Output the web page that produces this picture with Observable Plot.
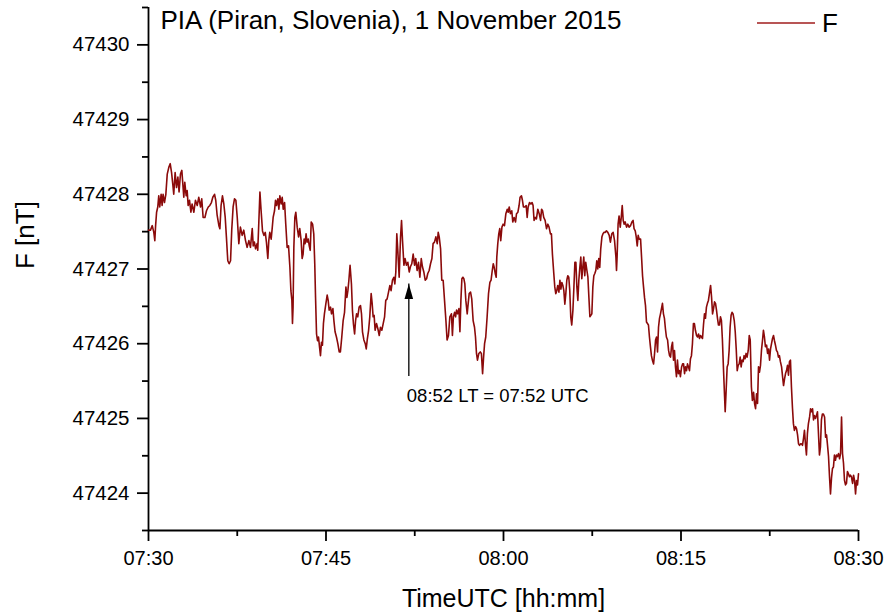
<!DOCTYPE html>
<html><head><meta charset="utf-8">
<script src="https://cdn.jsdelivr.net/npm/d3@7"></script>
<script src="https://cdn.jsdelivr.net/npm/@observablehq/plot@0.6"></script>
<style>html,body{margin:0;padding:0;background:#fff;}</style>
</head><body><div id="chart"></div>
<script>
const title = "PIA (Piran, Slovenia), 1 November 2015";
const seriesName = "F";
const xLabel = "TimeUTC [hh:mm]";
const yLabel = "F [nT]";
const startUTC = "2015-11-01T07:30:00Z";
const endUTC = "2015-11-01T08:30:00Z";
const xTickLabels = ["07:30", "07:45", "08:00", "08:15", "08:30"];
const xMinorTicks = ["07:37:30", "07:52:30", "08:07:30", "08:22:30"];
const yTicks = [47424, 47425, 47426, 47427, 47428, 47429, 47430];
const yMinorTicks = [47423.5, 47424.5, 47425.5, 47426.5, 47427.5, 47428.5, 47429.5, 47430.5];
const yDomain = [47423.5, 47430.5];
// seconds after 07:30:00 UTC
const seconds = [
0,10,19,27,32,36,41,47,52,57,64,69,74,81,88,95,103,110,117,123,128,135,142,149,155,162,169,174,179,184,191,196,201,208,215,221,230,238,247,255,264,270,277,286,294,303,311,319,326,335,341,348,357,362,368,375,382,389,395,402,409,416,422,429,436,443,450,458,466,475,483,492,500,509,517,
526,531,537,543,551,554,559,565,571,578,585,592,598,605,610,615,622,627,632,639,644,649,656,661,666,673,678,683,690,696,703,710,717,722,727,730,733,737,742,747,754,761,767,774,779,784,789,794,799,804,810,815,820,825,832,838,843,847,852,857,862,867,872,877,882,887,892,899,906,911,916,923,928,935,940,946,953,960,967,973,980,987,994,1001,1006,1011,1016,1022,
1029,1034,1039,1045,1050,1055,1061,1068,1075,1080,1085,1092,1099,1104,1109,1116,1122,1129,1134,1139,1144,1149,1156,1163,1170,1176,1183,1190,1197,1203,1210,1217,1224,1230,1237,1244,1249,1254,1259,1264,1271,1278,1283,1288,1295,1301,1308,1315,1322,1328,1335,1342,1349,1355,1362,1369,1376,1383,1389,1396,1403,1410,1416,1423,1430,1437,1443,1450,1457,1464,1469,1474,1481,1487,1494,1501,1508,1514,1521,1528,
1536,1541,1546,1552,1557,1562,1568,1574,1579,1584,1589,1594,1599,1604,1609,1616,1621,1626,1633,1639,1646,1653,1658,1663,1668,1675,1682,1688,1694,1699,1704,1710,1717,1724,1731,1737,1743,1748,1753,1758,1763,1766,1771,1776,1781,1786,1792,1798,1805,1812,1819,1824,1829,1835,1842,1847,1854,1861,1866,1873,1879,1884,1891,1896,1901,1908,1915,1920,1925,1932,1939,1945,1950,1955,1961,1967,1974,1981,1988,1993,1998,2004,2011,2018,2025,2031,2038,
2043,2048,2055,2060,2065,2070,2075,2081,2086,2091,2096,2101,2106,2111,2116,2121,2126,2131,2136,2141,2146,2152,2157,2162,2167,2172,2177,2182,2187,2192,2197,2202,2207,2212,2217,2223,2228,2233,2238,2243,2248,2253,2258,2263,2268,2273,2278,2283,2288,2293,2299,2304,2309,2315,2322,2329,2336,2342,2349,2356,2363,2370,2373,2376,2381,2386,2392,2397,2402,2407,2412,2417,2424,2430,2437,2444,2451,2457,2462,2468,2473,2478,2483,2488,2495,2500,2505,2510,2515,2520,2525,2530,2535,2540,2545,
2550,2555,2561,2566,2571,2576,2581,2586,2591,2596,2601,2606,2611,2616,2621,2626,2632,2637,2642,2647,2652,2657,2662,2667,2672,2677,2682,2687,2692,2697,2703,2708,2713,2718,2723,2728,2733,2738,2743,2748,2753,2758,2763,2768,2773,2779,2784,2789,2794,2799,2804,2809,2814,2819,2824,2829,2834,2839,2844,2850,2855,2860,2865,2870,2875,2880,2885,2890,2895,2900,2905,2910,2915,2921,2924,2929,2934,2939,2944,2949,2954,2959,2964,2970,2975,2980,2985,2990,2995,3000,3005,3010,3015,3020,3025,3030,3035,3041,3046,3051,
3057,3062,3068,3073,3078,3083,3088,3093,3098,3103,3108,3113,3118,3123,3128,3134,3139,3144,3149,3154,3159,3164,3169,3174,3179,3184,3189,3194,3199,3204,3210,3215,3220,3225,3230,3235,3240,3245,3250,3255,3260,3265,3270,3275,3281,3286,3291,3296,3301,3306,3311,3316,3321,3326,3331,3336,3341,3346,3352,3357,3362,3367,3372,3377,3382,3387,3392,3397,3402,3407,3412,3417,3422,3428,3433,3438,3443,3448,3453,3458,3463,3468,3473,3478,3483,3488,3493,3499,3504,3509,3514,3519,3524,3529,3534,3539,3544,3549,3554,3559,3564,3570,3575,3580,3585,3590,3595,3600
];
// total field F [nT]
const fieldF = [
47427.52,47427.52,47427.58,47427.49,47427.38,47427.58,47427.76,47427.83,47427.98,47427.83,47428.00,47427.85,47428.00,47427.89,47428.00,47428.27,47428.36,47428.41,47428.29,47428.14,47428.00,47428.29,47428.09,47428.23,47428.03,47428.27,47428.32,47428.14,47427.96,47428.16,47427.98,47428.05,47427.85,47427.92,47427.76,47427.87,47427.76,47427.92,47427.85,47427.96,47427.83,47427.94,47427.69,47427.69,47427.78,47427.83,47427.85,47427.89,47427.96,47428.00,47427.92,47427.72,47427.58,47427.54,47427.85,47427.98,47427.87,47427.69,47427.43,47427.11,47427.07,47427.11,47427.52,47427.83,47427.94,47427.92,47427.69,47427.34,47427.56,47427.45,47427.52,47427.38,47427.29,47427.38,47427.29,
47427.54,47427.31,47427.36,47427.27,47427.34,47427.25,47427.60,47428.03,47427.78,47427.51,47427.45,47427.49,47427.36,47427.14,47427.38,47427.49,47427.40,47427.54,47427.69,47427.78,47427.92,47427.85,47427.94,47427.80,47427.98,47427.87,47427.96,47427.80,47427.89,47427.60,47427.29,47427.31,47427.02,47426.71,47426.58,47426.27,47426.49,47427.29,47427.69,47427.76,47427.56,47427.43,47427.54,47427.38,47427.14,47427.20,47427.40,47427.34,47427.47,47427.36,47427.40,47427.31,47427.25,47427.63,47427.60,47427.47,47427.07,47426.62,47426.13,47426.04,47426.09,47425.96,47425.84,47426.02,47425.98,47426.27,47426.40,47426.53,47426.65,47426.58,47426.45,47426.49,47426.40,47426.47,47426.31,47426.16,47426.09,47426.00,47425.89,47425.89,47426.09,47426.31,47426.42,47426.76,47426.62,47426.71,47426.85,47427.05,
47426.80,47426.45,47426.27,47426.13,47426.31,47426.40,47426.36,47426.49,47426.51,47426.40,47426.16,47426.05,47426.00,47425.93,47426.05,47426.18,47426.36,47426.67,47426.54,47426.36,47426.38,47426.18,47426.27,47426.20,47426.11,47426.22,47426.18,47426.27,47426.36,47426.58,47426.60,47426.69,47426.78,47426.71,47426.85,47426.89,47426.80,47426.96,47427.47,47427.25,47426.89,47427.43,47427.65,47427.38,47427.05,47427.14,47427.05,47427.09,47426.96,47427.03,47427.07,47427.20,47427.05,47427.14,47426.98,47427.09,47426.89,47427.14,47427.03,47426.96,47426.85,47426.87,47426.94,47426.98,47427.07,47427.14,47427.34,47427.36,47427.43,47427.34,47427.49,47427.43,47427.27,47426.85,47426.85,47426.58,47426.31,47426.05,47426.11,47426.36,
47426.40,47426.11,47426.36,47426.42,47426.36,47426.45,47426.40,47426.47,47426.16,47426.58,47426.87,47426.89,47426.87,47426.80,47426.58,47426.40,47426.54,47426.67,47426.69,47426.60,47426.31,47426.22,47426.09,47425.87,47425.78,47425.87,47425.89,47425.87,47425.60,47425.82,47426.00,47426.09,47426.36,47426.67,47426.82,47426.85,47426.98,47427.07,47427.02,47426.94,47426.89,47427.16,47427.34,47427.47,47427.54,47427.38,47427.56,47427.60,47427.58,47427.74,47427.80,47427.76,47427.83,47427.74,47427.78,47427.63,47427.69,47427.63,47427.74,47427.76,47427.85,47427.96,47427.98,47427.92,47427.83,47427.83,47427.85,47427.69,47427.83,47427.89,47427.87,47427.89,47427.85,47427.65,47427.69,47427.67,47427.80,47427.74,47427.65,47427.80,47427.78,47427.69,47427.65,47427.54,47427.60,47427.56,47427.47,
47427.47,47427.20,47426.94,47426.76,47426.67,47426.71,47426.78,47426.69,47426.85,47426.73,47426.82,47426.78,47426.71,47426.53,47426.67,47426.85,47426.91,47426.89,47426.71,47426.36,47426.25,47426.45,47426.76,47427.09,47427.09,47426.76,47426.58,47426.85,47427.02,47427.16,47426.87,47427.02,47427.16,47426.91,47427.09,47426.98,47426.89,47426.62,47426.36,47426.38,47426.40,47426.76,47426.91,47426.94,47426.98,47427.11,47427.00,47427.14,47427.02,47427.27,47427.43,47427.47,47427.49,47427.49,47427.51,47427.49,47427.45,47427.36,47427.47,47427.49,47427.38,47427.16,47426.98,47427.16,47427.60,47427.71,47427.56,47427.69,47427.85,47427.65,47427.60,47427.63,47427.56,47427.60,47427.56,47427.58,47427.63,47427.65,47427.54,47427.51,47427.43,47427.31,47427.45,47427.40,47427.40,47427.16,47426.91,47426.76,47426.62,47426.51,47426.29,47426.27,47426.25,47426.09,47425.96,
47425.84,47425.78,47425.73,47425.87,47426.05,47426.09,47425.89,47426.22,47426.34,47426.40,47426.47,47426.54,47426.40,47426.34,47426.20,47426.09,47426.05,47425.91,47425.84,47425.82,47425.96,47426.02,47425.78,47425.91,47425.69,47425.56,47425.78,47425.60,47425.64,47425.56,47425.69,47425.73,47425.73,47425.60,47425.69,47425.64,47425.73,47425.69,47425.64,47425.80,47425.84,47426.00,47426.27,47426.27,47426.18,47426.11,47426.09,47426.13,47426.07,47426.11,47426.09,47426.07,47426.25,47426.40,47426.34,47426.49,47426.54,47426.58,47426.67,47426.78,47426.62,47426.40,47426.47,47426.56,47426.54,47426.45,47426.34,47426.25,47426.25,47426.36,47426.31,47426.05,47425.69,47425.29,47425.09,47425.38,47425.69,47425.73,47425.91,47426.22,47426.38,47426.42,47426.40,47426.31,47426.16,47425.93,47425.64,47425.71,47425.73,47425.82,47425.69,47425.78,47425.76,47425.84,47425.80,47425.87,47425.82,47425.91,47426.11,47426.05,
47425.42,47425.24,47425.35,47425.20,47425.13,47425.33,47425.20,47425.69,47425.62,47425.71,47425.91,47426.04,47426.18,47426.09,47425.96,47425.98,47425.87,47425.93,47425.78,47425.93,47426.00,47426.07,47426.11,47426.04,47425.98,47425.91,47425.89,47425.82,47425.84,47425.76,47425.69,47425.56,47425.44,47425.53,47425.60,47425.64,47425.71,47425.58,47425.76,47425.78,47425.42,47425.15,47424.93,47424.84,47424.89,47424.86,47424.78,47424.66,47424.64,47424.66,47424.66,47424.64,47424.73,47424.84,47424.66,47424.51,47424.80,47424.93,47425.02,47425.13,47425.09,47425.13,47424.98,47425.04,47425.00,47425.04,47425.09,47424.80,47424.51,47424.62,47424.98,47425.06,47425.06,47425.02,47424.75,47424.78,47424.64,47424.49,47424.22,47423.99,47424.20,47424.33,47424.35,47424.51,47424.44,47424.51,47424.49,47424.53,47424.46,47424.53,47425.02,47424.53,47424.40,47424.17,47424.11,47424.13,47424.29,47424.26,47424.22,47424.24,47424.22,47424.13,47424.24,47424.17,47423.99,47424.17,47424.11,47424.26
];
const note = {time: "07:52:00", text: "08:52 LT = 07:52 UTC", tip: 47426.8, base: 47425.56, label: 47425.3};

const t0 = new Date(startUTC).getTime();
const toDate = hms => new Date(`2015-11-01T${hms.length === 5 ? hms + ":00" : hms}Z`);
const data = seconds.map((s, i) => ({t: new Date(t0 + s * 1000), F: fieldF[i]}));
const font = '"Liberation Sans", Arial, Helvetica, sans-serif';
const headSymbol = {draw(ctx) { ctx.moveTo(0, 0); ctx.lineTo(4.3, 15); ctx.lineTo(-4.3, 15); ctx.closePath(); }};
const noteDate = toDate(note.time);

const chart = Plot.plot({
  width: 896, height: 615,
  marginLeft: 148, marginRight: 38, marginTop: 7, marginBottom: 85,
  style: {fontFamily: font, background: "#fff", color: "#000", overflow: "visible"},
  x: {type: "utc", domain: [new Date(startUTC), new Date(endUTC)]},
  y: {domain: yDomain},
  marks: [
    Plot.axisX({ticks: xTickLabels.map(toDate), tickSize: 11, tickPadding: 9, tickFormat: d3.utcFormat("%H:%M"), fontSize: 20, strokeWidth: 1.8, label: null}),
    Plot.axisX({ticks: xMinorTicks.map(toDate), tickSize: 6, tickFormat: () => "", strokeWidth: 1.8, label: null}),
    Plot.axisY({ticks: yTicks, tickSize: 11, tickPadding: 8, tickFormat: d => String(d), fontSize: 20.5, strokeWidth: 1.8, label: null}),
    Plot.axisY({ticks: yMinorTicks, tickSize: 6, tickFormat: () => "", strokeWidth: 1.8, label: null}),
    Plot.ruleX([new Date(startUTC)], {stroke: "#000", strokeWidth: 1.8}),
    Plot.ruleY([yDomain[0]], {stroke: "#000", strokeWidth: 1.8}),
    Plot.lineY(data, {x: "t", y: "F", stroke: "#8b0a0a", strokeWidth: 1.6}),
    Plot.ruleX([note], {x: () => noteDate, y1: "base", y2: "tip", stroke: "#000", strokeWidth: 1.3}),
    Plot.dot([note], {x: () => noteDate, y: "tip", symbol: headSymbol, fill: "#000", stroke: "none", r: 5}),
    Plot.text([note], {x: () => noteDate, y: "label", text: "text", textAnchor: "start", dx: -2, fontSize: 18.5, fill: "#000"}),
    Plot.text([title], {frameAnchor: "top-left", textAnchor: "start", lineAnchor: "top", dx: 12, dy: 3, fontSize: 26, fill: "#000"}),
    Plot.text([xLabel], {frameAnchor: "bottom", lineAnchor: "bottom", dy: 76, fontSize: 25, fill: "#000"}),
    Plot.text([yLabel], {frameAnchor: "left", rotate: -90, dx: -123, fontSize: 26, fill: "#000"})
  ]
});

const svg = d3.select(chart);
const lg = svg.append("g").attr("class", "legend");
lg.append("line").attr("x1", 757).attr("x2", 815).attr("y1", 23).attr("y2", 23)
  .attr("stroke", "#a01c1c").attr("stroke-width", 1.5);
lg.append("text").attr("x", 822).attr("y", 32).attr("font-size", 26)
  .attr("text-anchor", "start").attr("font-family", font).attr("fill", "#000").text(seriesName);

document.getElementById("chart").appendChild(chart);
</script>
</body></html>
